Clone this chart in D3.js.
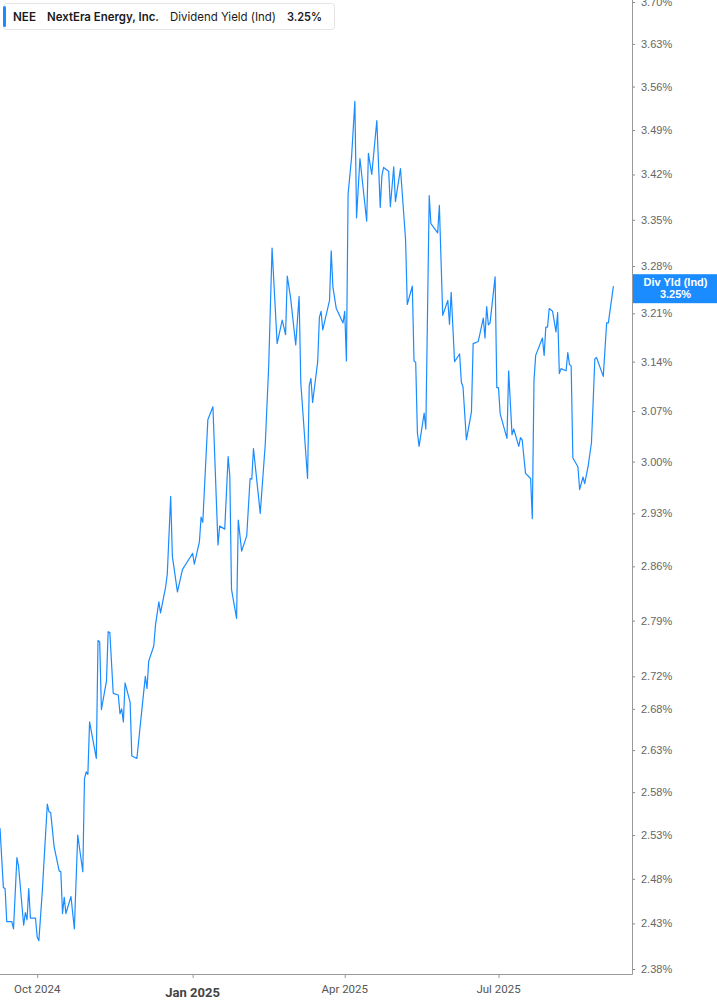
<!DOCTYPE html>
<html><head><meta charset="utf-8">
<script src="https://cdn.jsdelivr.net/npm/d3@7"></script>
<style>
html,body{margin:0;padding:0;background:#fff;}
svg{display:block;}
</style></head>
<body>
<svg id="chart" width="717" height="1005"></svg>
<script>
const ticker = "NEE";
const company = "NextEra Energy, Inc.";
const metric = "Dividend Yield (Ind)";
const lastLabel = "Div Yld (Ind)";

const dates = [
"2024-09-09","2024-09-11","2024-09-12","2024-09-13","2024-09-16","2024-09-17","2024-09-19","2024-09-20","2024-09-23","2024-09-24",
"2024-09-25","2024-09-26","2024-09-27","2024-09-30","2024-10-01","2024-10-02","2024-10-04","2024-10-07","2024-10-08","2024-10-09",
"2024-10-11","2024-10-14","2024-10-15","2024-10-16","2024-10-17","2024-10-18","2024-10-21","2024-10-23","2024-10-25","2024-10-28",
"2024-10-29","2024-10-30","2024-10-31","2024-11-01","2024-11-05","2024-11-06","2024-11-07","2024-11-08","2024-11-11","2024-11-12",
"2024-11-13","2024-11-15","2024-11-18","2024-11-19","2024-11-20","2024-11-21","2024-11-22","2024-11-25","2024-11-26","2024-11-29",
"2024-12-02","2024-12-04","2024-12-05","2024-12-06","2024-12-09","2024-12-10","2024-12-12","2024-12-13","2024-12-16","2024-12-17",
"2024-12-19","2024-12-20","2024-12-23","2024-12-26","2024-12-30","2025-01-01","2025-01-02","2025-01-05","2025-01-06","2025-01-07",
"2025-01-10","2025-01-13","2025-01-16","2025-01-17","2025-01-20","2025-01-22","2025-01-23","2025-01-24","2025-01-27","2025-01-28",
"2025-01-30","2025-02-02","2025-02-04","2025-02-05","2025-02-06","2025-02-10","2025-02-13","2025-02-15","2025-02-17","2025-02-20",
"2025-02-23","2025-02-25","2025-02-26","2025-02-28","2025-03-03","2025-03-04","2025-03-05","2025-03-06","2025-03-10","2025-03-11",
"2025-03-12","2025-03-13","2025-03-16","2025-03-17","2025-03-18","2025-03-19","2025-03-23","2025-03-24","2025-03-25","2025-03-27",
"2025-03-31","2025-04-01","2025-04-02","2025-04-03","2025-04-05","2025-04-07","2025-04-08","2025-04-10","2025-04-14","2025-04-15",
"2025-04-17","2025-04-20","2025-04-22","2025-04-23","2025-04-24","2025-04-27","2025-04-28","2025-04-30","2025-05-01","2025-05-04",
"2025-05-07","2025-05-08","2025-05-11","2025-05-12","2025-05-13","2025-05-14","2025-05-15","2025-05-18","2025-05-19","2025-05-21",
"2025-05-22","2025-05-26","2025-05-27","2025-05-29","2025-06-01","2025-06-02","2025-06-03","2025-06-05","2025-06-08","2025-06-09",
"2025-06-10","2025-06-12","2025-06-15","2025-06-16","2025-06-19","2025-06-22","2025-06-23","2025-06-24","2025-06-25","2025-06-26",
"2025-06-29","2025-06-30","2025-07-01","2025-07-02","2025-07-06","2025-07-07","2025-07-09","2025-07-10","2025-07-13","2025-07-14",
"2025-07-15","2025-07-17","2025-07-20","2025-07-21","2025-07-22","2025-07-23","2025-07-27","2025-07-28","2025-07-29","2025-07-30",
"2025-07-31","2025-08-02","2025-08-04","2025-08-05","2025-08-06","2025-08-07","2025-08-10","2025-08-11","2025-08-12","2025-08-13",
"2025-08-14","2025-08-17","2025-08-18","2025-08-20","2025-08-21","2025-08-23","2025-08-25","2025-08-26","2025-08-27","2025-08-28",
"2025-09-01","2025-09-03","2025-09-04","2025-09-07"
];

const yields = [
2.538,2.470,2.469,2.432,2.432,2.424,2.504,2.494,2.428,2.442,
2.434,2.469,2.436,2.436,2.415,2.411,2.465,2.566,2.557,2.556,
2.517,2.489,2.488,2.441,2.459,2.441,2.460,2.424,2.530,2.488,
2.596,2.604,2.601,2.664,2.620,2.765,2.763,2.679,2.714,2.776,
2.775,2.699,2.697,2.674,2.680,2.664,2.712,2.688,2.623,2.620,
2.680,2.720,2.705,2.739,2.758,2.784,2.814,2.800,2.833,2.850,
2.953,2.873,2.827,2.856,2.870,2.877,2.863,2.892,2.925,2.918,
3.058,3.076,2.888,2.913,2.909,3.007,2.980,2.830,2.793,2.921,
2.880,2.900,2.977,2.976,3.018,2.930,3.025,3.133,3.307,3.166,
3.200,3.179,3.265,3.232,3.164,3.200,3.235,3.110,2.977,3.106,
3.116,3.082,3.140,3.204,3.213,3.186,3.229,3.303,3.249,3.217,
3.196,3.213,3.141,3.390,3.445,3.536,3.353,3.445,3.348,3.453,
3.420,3.505,3.369,3.418,3.431,3.425,3.370,3.432,3.378,3.429,
3.320,3.223,3.250,3.141,3.139,3.040,3.021,3.067,3.045,3.387,
3.344,3.330,3.372,3.207,3.229,3.194,3.241,3.140,3.151,3.111,
3.104,3.030,3.069,3.166,3.169,3.203,3.174,3.220,3.193,3.196,
3.264,3.103,3.103,3.066,3.032,3.127,3.037,3.045,3.021,3.033,
3.030,2.984,2.977,2.923,3.113,3.149,3.174,3.149,3.190,3.190,
3.217,3.213,3.183,3.211,3.123,3.130,3.127,3.153,3.136,3.134,
3.005,2.993,2.962,2.979,2.970,2.993,3.026,3.082,3.144,3.146,
3.119,3.196,3.196,3.250
];

const yTicks = [3.70,3.63,3.56,3.49,3.42,3.35,3.28,3.21,3.14,3.07,3.00,2.93,2.86,2.79,2.72,2.68,2.63,2.58,2.53,2.48,2.43,2.38];
const xTicks = ["2024-10-01","2025-01-01","2025-04-01","2025-07-01"];
const xTickLabels = ["Oct 2024","Jan 2025","Apr 2025","Jul 2025"];
const xDomain = ["2024-09-09","2025-09-18"];
const yDomain = [2.38, 3.70];

const parse = d3.timeParse("%Y-%m-%d");
const data = dates.map((d,i)=>({date:parse(d), v:yields[i]}));

const W = 717, H = 1005;
const plotRight = 632, plotBottom = 974;
const x = d3.scaleTime().domain(xDomain.map(parse)).range([0, plotRight]);
const y = d3.scaleLog().domain(yDomain).range([969, 2]);

const svg = d3.select("#chart");

// line
const line = d3.line().x(d=>x(d.date)).y(d=>y(d.v));
svg.append("path").datum(data)
  .attr("d", line)
  .attr("fill","none")
  .attr("stroke","#1a8cff")
  .attr("stroke-width",1.2)
  .attr("stroke-linejoin","round");

// right axis
const yAxis = d3.axisRight(y).tickValues(yTicks).tickSize(3).tickPadding(6)
  .tickFormat(d=>d.toFixed(2)+"%");
const gy = svg.append("g").attr("transform",`translate(${plotRight},0)`).call(yAxis);
gy.select(".domain").remove();
gy.selectAll(".tick line").attr("stroke","#888");
gy.selectAll(".tick text").attr("fill","#666").style("font-family","'Liberation Sans', Arial, sans-serif").style("font-size","11px");
svg.append("line").attr("x1",plotRight+0.5).attr("x2",plotRight+0.5).attr("y1",0).attr("y2",plotBottom+0.5)
  .attr("stroke","#999").attr("stroke-width",1);

// bottom axis
const xAxis = d3.axisBottom(x).tickValues(xTicks.map(parse)).tickSize(4).tickFormat(()=> "");
const gx = svg.append("g").attr("transform",`translate(0,${plotBottom})`).call(xAxis);
gx.select(".domain").remove();
gx.selectAll(".tick line").attr("stroke","#999");
svg.append("line").attr("x1",0).attr("x2",plotRight+0.5).attr("y1",plotBottom+0.5).attr("y2",plotBottom+0.5)
  .attr("stroke","#999").attr("stroke-width",1);
svg.append("g").selectAll("text").data(xTicks).join("text")
  .attr("x",d=>x(parse(d)))
  .attr("y",(d,i)=> xTickLabels[i].startsWith("Jan") ? 997 : 993)
  .attr("text-anchor","middle")
  .attr("fill",(d,i)=> xTickLabels[i].startsWith("Jan") ? "#444" : "#555")
  .style("font-family","Roboto, sans-serif")
  .style("font-size",(d,i)=> xTickLabels[i].startsWith("Jan") ? "13px" : "11.5px")
  .style("font-weight",(d,i)=> xTickLabels[i].startsWith("Jan") ? "700" : "400")
  .text((d,i)=>xTickLabels[i]);

// last value label
const last = data[data.length-1];
const ly = y(last.v);
svg.append("rect").attr("x",plotRight+1).attr("y",ly-12).attr("width",W-plotRight-1).attr("height",29)
  .attr("fill","#1a8cff");
svg.append("text").attr("x",(plotRight+W)/2+1).attr("y",ly)
  .attr("text-anchor","middle").attr("fill","#fff")
  .style("font-family","'Liberation Sans', Arial, sans-serif").style("font-size","11px").style("font-weight","700")
  .text(lastLabel);
svg.append("text").attr("x",(plotRight+W)/2+1).attr("y",ly+12)
  .attr("text-anchor","middle").attr("fill","#fff")
  .style("font-family","'Liberation Sans', Arial, sans-serif").style("font-size","11px").style("font-weight","700")
  .text(last.v.toFixed(2)+"%");

// legend
const lg = svg.append("g");
lg.append("rect").attr("x",3.5).attr("y",3.5).attr("width",331).attr("height",26).attr("rx",3)
  .attr("fill","#fff").attr("stroke","#e4e4e4");
lg.append("rect").attr("x",3).attr("y",6).attr("width",3).attr("height",21).attr("rx",1.5).attr("fill","#1a8cff");
const legendParts = [
  {t:ticker, x:13, w:600, len:23},
  {t:company, x:47, w:600, len:112},
  {t:metric, x:170, w:400, len:106},
  {t:last.v.toFixed(2)+"%", x:287, w:600, len:35}
];
lg.selectAll("text.leg").data(legendParts).join("text")
  .attr("x",d=>d.x).attr("y",21)
  .attr("fill","#1a1a1a")
  .attr("textLength",d=>d.len).attr("lengthAdjust","spacingAndGlyphs")
  .style("font-family","Inter, sans-serif").style("font-size","12px")
  .style("font-weight",d=>d.w)
  .text(d=>d.t);
</script>
</body></html>
